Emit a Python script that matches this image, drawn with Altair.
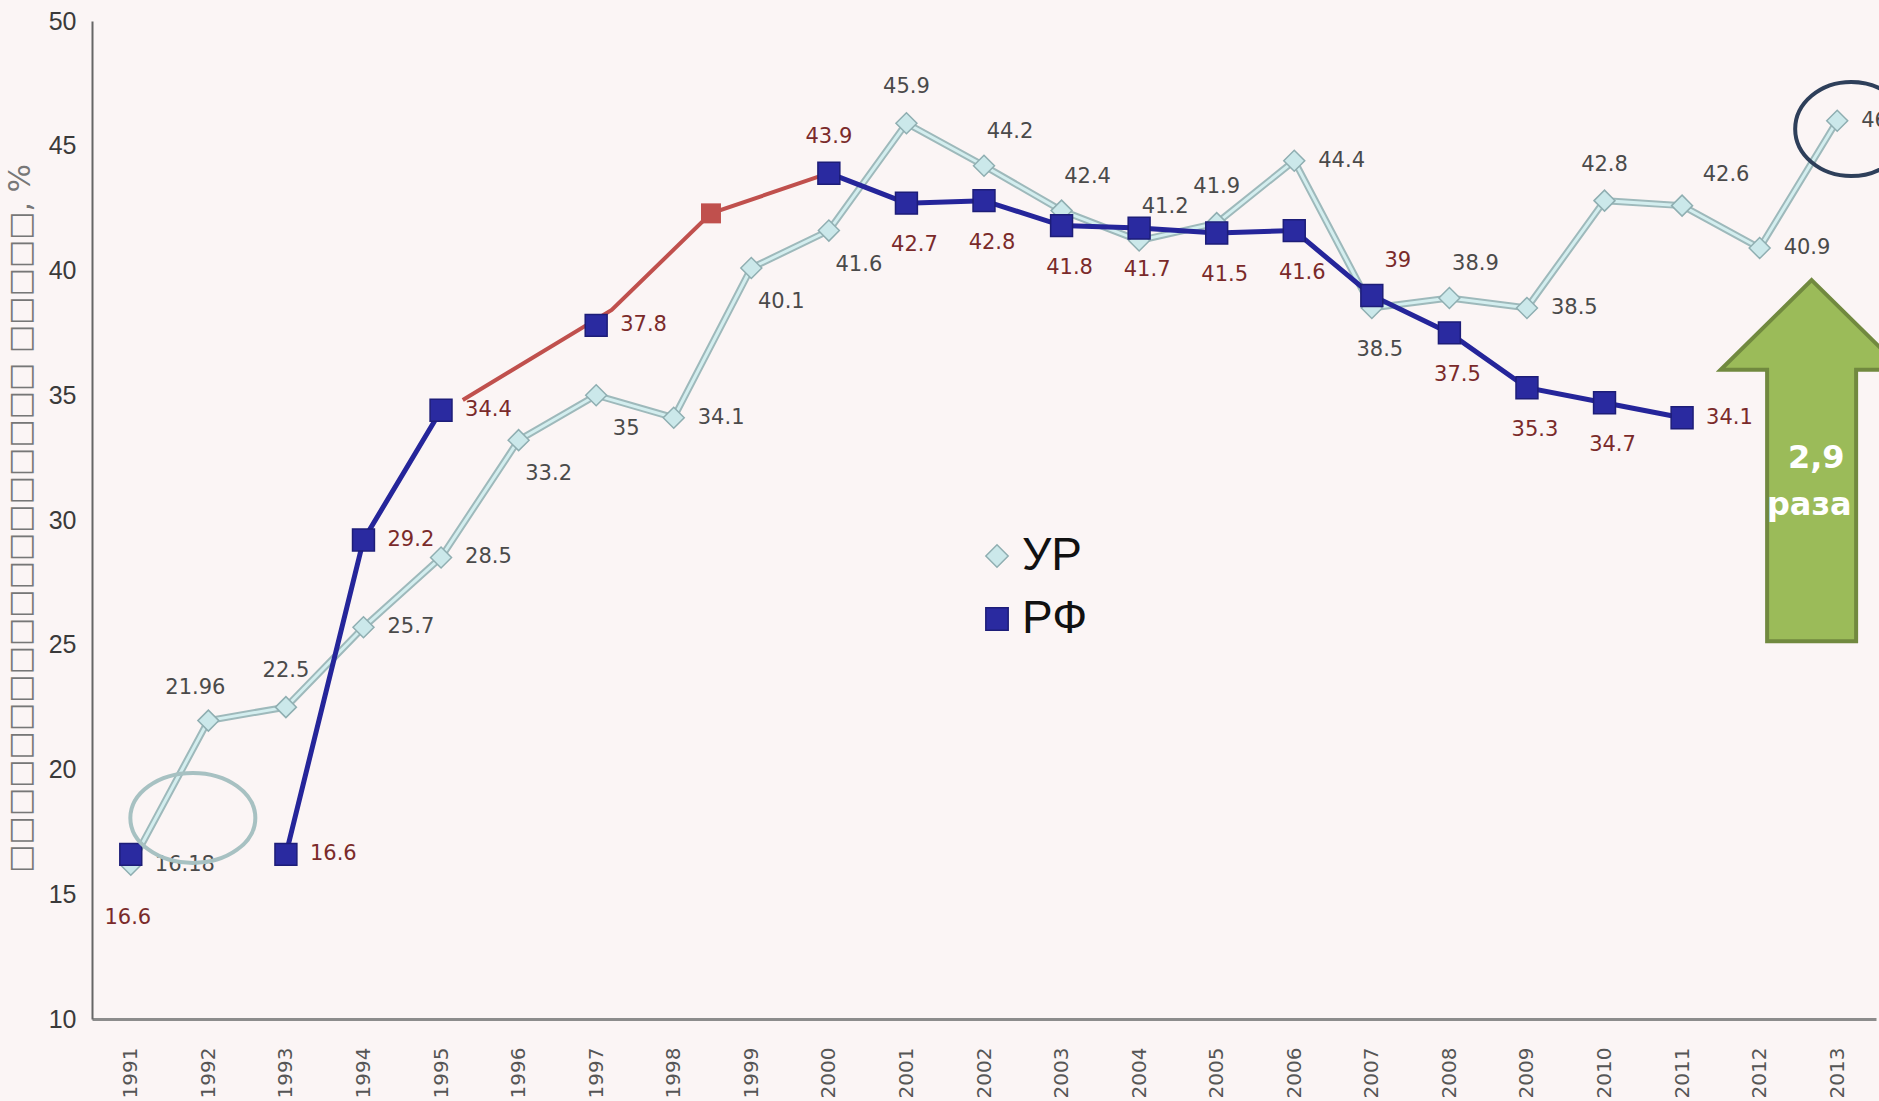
import altair as alt
import pandas as pd

# ---------------- data ----------------
years = list(range(1991, 2014))
series_names = ["УР", "РФ"]
ur_values = [16.18, 21.96, 22.5, 25.7, 28.5, 33.2, 35, 34.1, 40.1, 41.6, 45.9, 44.2,
             42.4, 41.2, 41.9, 44.4, 38.5, 38.9, 38.5, 42.8, 42.6, 40.9, 46]
rf_values = [16.6, None, 16.6, 29.2, 34.4, None, 37.8, None, None, 43.9, 42.7, 42.8,
             41.8, 41.7, 41.5, 41.6, 39, 37.5, 35.3, 34.7, 34.1, None, None]
y_ticks = [10, 15, 20, 25, 30, 35, 40, 45, 50]
y_title = "□" * 18 + " " + "□" * 5 + ", %"

# label placement codes (layout only)
ur_label_pos = ["r", "al", "a", "r", "r", "br", "br", "r", "br", "br", "a", "ar",
                "ar", "ar", "a", "r", "b", "ar", "r", "a", "ar2", "r", "r"]
rf_label_pos = ["b2", None, "r", "r", "r", None, "r", None, None, "a", "b", "b",
                "b", "b", "b", "b", "ar", "b", "b", "b", "r", None, None]

# hand-drawn red correction line
red_years = [1995.28, 1997.20, 1998.48, 2000]
red_values = [34.81, 38.42, 42.29, 43.9]
red_marker_years = [1998.48]
red_marker_values = [42.29]

# annotations
ellipse1_year, ellipse1_value = [1991.80], [18.06]
ellipse2_year, ellipse2_value = [2013.18], [45.67]
arrow_year, arrow_value = [2012.67], [32.38]
arrow_texts = ["2,9", "раза"]
arrow_text_years = [2012.73, 2012.64]
arrow_text_values = [32.48, 30.6]

# ---------------- frames ----------------
ur_df = pd.DataFrame({"year": years, "value": ur_values, "series": series_names[0],
                      "pos": ur_label_pos})
ur_df["label"] = [f"{v:g}" for v in ur_df["value"]]
rf_df = pd.DataFrame({"year": years, "value": rf_values, "series": series_names[1],
                      "pos": rf_label_pos}).dropna(subset=["value"]).reset_index(drop=True)
rf_df["label"] = [f"{v:g}" for v in rf_df["value"]]
rf_df["seg"] = (rf_df["year"].diff().fillna(1) > 1).cumsum()

red_df = pd.DataFrame({"year": red_years, "value": red_values})
red_mk = pd.DataFrame({"year": red_marker_years, "value": red_marker_values})
ell1 = pd.DataFrame({"year": ellipse1_year, "value": ellipse1_value})
ell2 = pd.DataFrame({"year": ellipse2_year, "value": ellipse2_value})
arr = pd.DataFrame({"year": arrow_year, "value": arrow_value})
arr_txt = pd.DataFrame({"year": arrow_text_years, "value": arrow_text_values, "t": arrow_texts})

# ---------------- encodings ----------------
x_scale = alt.Scale(domain=[1990.5, 2013.5], nice=False, zero=False)
y_scale = alt.Scale(domain=[10, 50], nice=False, zero=False)
x_axis = alt.Axis(values=years, format="d", labelAngle=270, labelFont="DejaVu Sans",
                  labelFontSize=20, labelColor="#555555", ticks=False, grid=False,
                  domainColor="#8c8c8c", domainWidth=3, labelPadding=28,
                  labelFlush=False, labelOverlap=False, title=None)
y_axis = alt.Axis(values=y_ticks, labelFont="Liberation Sans", labelFontSize=25,
                  labelColor="#3a3a3a", ticks=False, grid=False, domainColor="#666666",
                  domainWidth=2, labelPadding=16, title=y_title, titleFont="DejaVu Sans",
                  titleFontSize=30, titleFontWeight="normal", titleColor="#777777",
                  titleX=-72, titleY=497, titleAngle=270, titleAlign="center",
                  titleBaseline="middle")
x_enc = alt.X("year:Q", scale=x_scale, axis=x_axis)
y_enc = alt.Y("value:Q", scale=y_scale, axis=y_axis)

legend = alt.Legend(title=None, orient="none", legendX=882, legendY=512,
                    labelFont="Liberation Sans", labelFontSize=46, labelColor="#111111",
                    symbolSize=500, symbolStrokeWidth=1.5, rowPadding=17, labelOffset=2,
                    padding=0)
fill_enc = alt.Fill("series:N", scale=alt.Scale(domain=series_names,
                    range=["#CBE8EA", "#2A2AA0"]), legend=legend)
stroke_enc = alt.Stroke("series:N", scale=alt.Scale(domain=series_names,
                        range=["#8FAEB1", "#1D1D78"]), legend=legend)
shape_enc = alt.Shape("series:N", scale=alt.Scale(domain=series_names,
                      range=["diamond", "square"]), legend=legend)

layers = []
# УР line (double-edged look)
layers.append(alt.Chart(ur_df).mark_line(color="#9EB9BB", strokeWidth=7).encode(x=x_enc, y=y_enc))
layers.append(alt.Chart(ur_df).mark_line(color="#D3EEEF", strokeWidth=3).encode(x=x_enc, y=y_enc))
# РФ line
layers.append(alt.Chart(rf_df).mark_line(color="#25259A", strokeWidth=5).encode(
    x=x_enc, y=y_enc, detail="seg:N"))
# red correction line
layers.append(alt.Chart(red_df).mark_line(color="#C0504D", strokeWidth=4).encode(x=x_enc, y=y_enc))
layers.append(alt.Chart(red_mk).mark_point(shape="square", filled=True, color="#C0504D",
                                           size=400, opacity=1).encode(x=x_enc, y=y_enc))
# points
layers.append(alt.Chart(ur_df).mark_point(filled=True, size=440, opacity=1, strokeWidth=1.5).encode(
    x=x_enc, y=y_enc, fill=fill_enc, stroke=stroke_enc, shape=shape_enc))
layers.append(alt.Chart(rf_df).mark_point(filled=True, size=480, opacity=1, strokeWidth=1.5).encode(
    x=x_enc, y=y_enc, fill=fill_enc, stroke=stroke_enc, shape=shape_enc))

# labels
label_offsets = {
    "r": (24, 0, "left"),
    "a": (0, -36, "center"),
    "al": (-13, -33, "center"),
    "ar": (26, -34, "center"),
    "ar2": (44, -31, "center"),
    "b": (8, 42, "center"),
    "br": (30, 34, "center"),
    "b2": (-3, 64, "center"),
}
for df, col in [(ur_df, "#4A4A4A"), (rf_df, "#7A2A2A")]:
    for code, (dx, dy, align) in label_offsets.items():
        sub = df[df["pos"] == code]
        if len(sub) == 0:
            continue
        layers.append(alt.Chart(sub[["year", "value", "label"]]).mark_text(
            dx=dx, dy=dy, align=align, baseline="middle", font="DejaVu Sans",
            fontSize=21, color=col).encode(x=x_enc, y=y_enc, text="label:N"))

# ellipses
kappa = 0.5523
def ellipse_path(r):
    k = kappa
    return (f"M -1 0 C -1 {-k*r:.4f} {-k:.4f} {-r:.4f} 0 {-r:.4f} "
            f"C {k:.4f} {-r:.4f} 1 {-k*r:.4f} 1 0 "
            f"C 1 {k*r:.4f} {k:.4f} {r:.4f} 0 {r:.4f} "
            f"C {-k:.4f} {r:.4f} -1 {k*r:.4f} -1 0 Z")
layers.append(alt.Chart(ell1).mark_point(shape=ellipse_path(0.72), size=15625, filled=False,
                                         color="#A7C1C2", strokeWidth=4, opacity=1).encode(x=x_enc, y=y_enc))
layers.append(alt.Chart(ell2).mark_point(shape=ellipse_path(0.84), size=12544, filled=False,
                                         color="#2E3F5A", strokeWidth=4, opacity=1).encode(x=x_enc, y=y_enc))

# arrow
arrow_path = ("M 0 -1.984 L 1 -0.999 L 0.489 -0.999 L 0.489 1.984 "
              "L -0.489 1.984 L -0.489 -0.999 L -1 -0.999 Z")
layers.append(alt.Chart(arr).mark_point(shape=arrow_path, size=33124, filled=True,
                                        fill="#9BBB59", stroke="#71893F", strokeWidth=4,
                                        opacity=1).encode(x=x_enc, y=y_enc))
layers.append(alt.Chart(arr_txt).mark_text(font="DejaVu Sans", fontWeight="bold", fontSize=32,
                                           color="white", align="center", baseline="middle").encode(
    x=x_enc, y=y_enc, text="t:N"))

chart = alt.layer(*layers).properties(
    width=1784, height=998,
    autosize=alt.AutoSizeParams(type="none"),
    padding={"left": 92, "top": 21, "right": 3, "bottom": 82},
    background="#FBF5F5",
).configure_view(stroke=None)

chart.save("out.html", embed_options={"renderer": "svg", "actions": False})
